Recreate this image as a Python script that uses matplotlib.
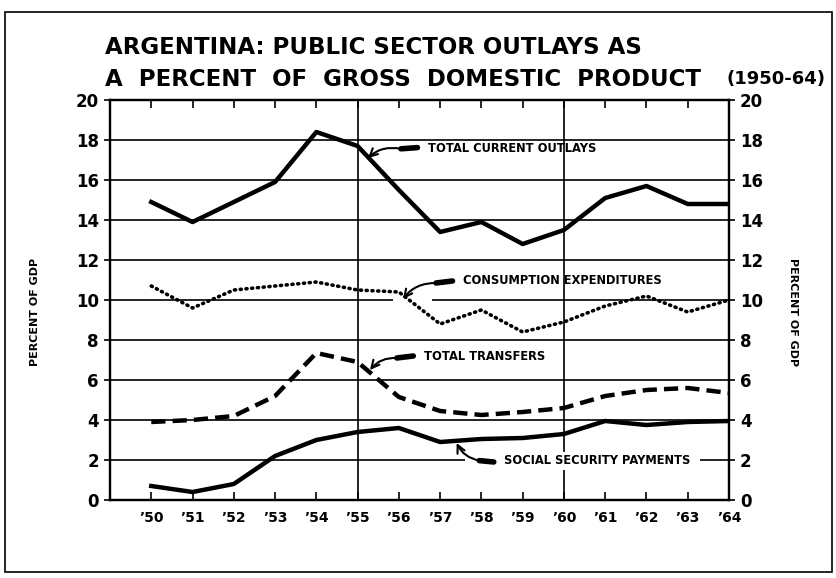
import numpy as np
import matplotlib.pyplot as plt
from matplotlib.patches import Rectangle

# values (percent of GDP)
years = [1950, 1951, 1952, 1953, 1954, 1955, 1956, 1957,
         1958, 1959, 1960, 1961, 1962, 1963, 1964]
year_labels = ['\u201950', '\u201951', '\u201952', '\u201953', '\u201954',
               '\u201955', '\u201956', '\u201957', '\u201958', '\u201959',
               '\u201960', '\u201961', '\u201962', '\u201963', '\u201964']
total_current = [14.9, 13.9, 14.9, 15.9, 18.4, 17.7, 15.5, 13.4,
                 13.9, 12.8, 13.5, 15.1, 15.7, 14.8, 14.8]
consumption = [10.7, 9.6, 10.5, 10.7, 10.9, 10.5, 10.4, 8.8,
               9.5, 8.4, 8.9, 9.7, 10.2, 9.4, 10.0]
transfers = [3.9, 4.0, 4.2, 5.2, 7.35, 6.9, 5.15, 4.45,
             4.25, 4.4, 4.6, 5.2, 5.5, 5.6, 5.35]
social_sec = [0.7, 0.4, 0.8, 2.2, 3.0, 3.4, 3.6, 2.9,
              3.05, 3.1, 3.3, 3.95, 3.75, 3.9, 3.95]
y_ticks = [0, 2, 4, 6, 8, 10, 12, 14, 16, 18, 20]

plt.rcParams['font.family'] = ['DejaVu Sans']
W, H = 837, 578
fig = plt.figure(figsize=(W / 100, H / 100), dpi=100)
fig.patches.append(Rectangle((5 / W, 6 / H), 827 / W, 560 / H, transform=fig.transFigure,
                             fill=False, lw=1.2, ec='black'))

ax = fig.add_axes([110 / W, 1 - 500 / H, 619 / W, 400 / H])
ax.set_xlim(1949, 1964)
ax.set_ylim(0, 20)

# grid: horizontal lines, some broken where labels sit
for v in y_ticks[1:-1]:
    if v == 10:
        ax.hlines(v, 1949, 1955.85, color='black', lw=1.2, zorder=1)
        ax.hlines(v, 1956.8, 1964, color='black', lw=1.2, zorder=1)
    elif v == 2:
        ax.hlines(v, 1949, 1957.6, color='black', lw=1.2, zorder=1)
        ax.hlines(v, 1963.3, 1964, color='black', lw=1.2, zorder=1)
    else:
        ax.hlines(v, 1949, 1964, color='black', lw=1.2, zorder=1)
for yr in (1955, 1960):
    ax.axvline(yr, color='black', lw=1.2, zorder=1)

ax.plot(years, total_current, color='black', lw=3.2, zorder=3)
ax.plot(years, consumption, color='black', lw=2.6, ls=(0, (0.3, 1.3)),
        dash_capstyle='round', zorder=3)
ax.plot(years, transfers, color='black', lw=3.2, ls=(0, (3.2, 1.6)), zorder=3)
ax.plot(years, social_sec, color='black', lw=3.2, zorder=3)

lab = dict(fontsize=8.3, fontweight='bold', va='center', ha='left', zorder=4)
arrow = dict(arrowstyle='->', color='black', lw=1.5, mutation_scale=14, shrinkA=0, shrinkB=0)
stub = dict(arrowstyle='-', color='black', lw=4, shrinkA=0, shrinkB=0, capstyle='round')


def callout(text, text_xy, tail, mid, head, rad, **kw):
    ax.text(*text_xy, text, **lab, **kw)
    ax.annotate('', xy=mid, xytext=tail, arrowprops=stub)
    ax.annotate('', xy=head, xytext=mid,
                arrowprops=dict(connectionstyle=f'arc3,rad={rad}', **arrow))


callout('TOTAL CURRENT OUTLAYS', (1956.7, 17.55),
        (1956.45, 17.62), (1956.05, 17.56), (1955.25, 17.1), 0.25)
callout('CONSUMPTION EXPENDITURES', (1957.55, 10.95),
        (1957.3, 10.95), (1956.9, 10.85), (1956.1, 10.05), 0.25)
callout('TOTAL TRANSFERS', (1956.6, 7.15),
        (1956.35, 7.2), (1955.95, 7.1), (1955.3, 6.5), 0.25)
callout('SOCIAL SECURITY PAYMENTS', (1958.55, 1.95),
        (1958.3, 1.9), (1957.95, 1.97), (1957.4, 2.85), -0.25,
        bbox=dict(fc='white', ec='none', pad=1.5))

for s in ax.spines.values():
    s.set_linewidth(1.6)
ax.set_xticks(years)
ax.set_xticklabels(year_labels, fontsize=10, fontweight='bold')
ax.tick_params(axis='x', direction='in', length=6, width=1.2, top=True, pad=8)
ax.set_yticks(y_ticks)
ax.set_yticklabels([str(v) for v in y_ticks], fontsize=12, fontweight='bold')
ax.tick_params(axis='y', direction='out', length=4, width=1.2, pad=4)

ax2 = ax.twinx()
ax2.set_ylim(ax.get_ylim())
ax2.set_yticks(y_ticks)
ax2.set_yticklabels([str(v) for v in y_ticks], fontsize=12, fontweight='bold')
ax2.tick_params(axis='y', direction='out', length=4, width=1.2, pad=4)
for s in ax2.spines.values():
    s.set_linewidth(1.6)

fig.text(35 / W, 1 - 312 / H, 'PERCENT OF GDP', rotation=90, fontsize=8,
         fontweight='bold', ha='center', va='center')
fig.text(793 / W, 1 - 312 / H, 'PERCENT OF GDP', rotation=270, fontsize=8,
         fontweight='bold', ha='center', va='center')

fig.text(105 / W, 1 - 47 / H, 'ARGENTINA: PUBLIC SECTOR OUTLAYS AS', fontsize=16.5,
         fontweight='bold', ha='left', va='center')
fig.text(105 / W, 1 - 79 / H, 'A  PERCENT  OF  GROSS  DOMESTIC  PRODUCT', fontsize=16.5,
         fontweight='bold', ha='left', va='center')
fig.text(826 / W, 1 - 79 / H, '(1950-64)', fontsize=13,
         fontweight='bold', ha='right', va='center')

fig.savefig('out.png', dpi=100)
